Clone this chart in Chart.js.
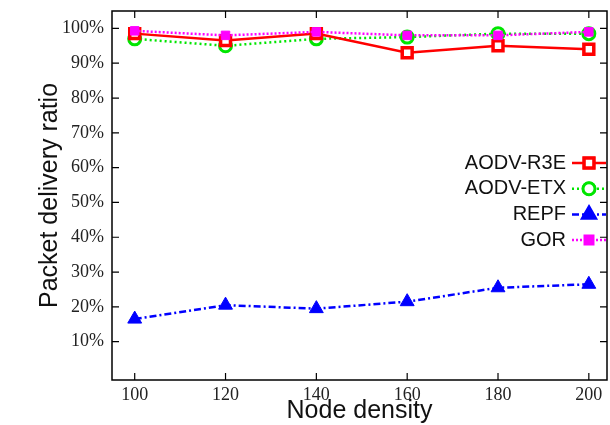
<!DOCTYPE html>
<html>
<head>
<meta charset="utf-8">
<script src="https://cdn.jsdelivr.net/npm/chart.js@4"></script>
<style>
	html, body { margin: 0; padding: 0; background: #fff; }
	#wrap { width: 610px; height: 425px; }
</style>
</head>
<body>
<div id="wrap"><canvas id="data" width="610" height="425"></canvas></div>
<script>
const nodeDensity = [100, 120, 140, 160, 180, 200];
const yTicks = [10, 20, 30, 40, 50, 60, 70, 80, 90, 100];

const aodvR3e = [98.5, 96.5, 98.5, 93, 95, 94];
const aodvEtx = [97, 95, 97, 97.5, 98.5, 98.5];
const repf = [16.5, 20.5, 19.5, 21.5, 25.5, 26.5];
const gor = [99.3, 98, 99, 98, 98, 99];

const toPoints = (vals) => vals.map((v, i) => ({ x: nodeDensity[i], y: v }));

// drop the label overhang padding chart.js adds, so the frame sits where we want
const noPad = (s) => {
	s.paddingTop = 0;
	s.paddingBottom = 0;
	s.paddingLeft = 0;
	s.paddingRight = 0;
};

// gnuplot style: ticks pointing inward on all four sides, plus the frame
const frameTicks = {
	id: "frameTicks",
	afterDraw(chart) {
		const { ctx, chartArea: a, scales } = chart;
		ctx.save();
		ctx.strokeStyle = "#000";
		ctx.lineWidth = 1.5;
		ctx.strokeRect(a.left, a.top, a.right - a.left, a.bottom - a.top);
		ctx.lineWidth = 1.2;
		ctx.beginPath();
		nodeDensity.forEach((v) => {
			const x = scales.x.getPixelForValue(v);
			ctx.moveTo(x, a.bottom); ctx.lineTo(x, a.bottom - 7);
			ctx.moveTo(x, a.top); ctx.lineTo(x, a.top + 7);
		});
		yTicks.forEach((v) => {
			const y = scales.y.getPixelForValue(v);
			ctx.moveTo(a.left, y); ctx.lineTo(a.left + 7, y);
			ctx.moveTo(a.right, y); ctx.lineTo(a.right - 7, y);
		});
		ctx.stroke();
		ctx.restore();
	}
};

// key inside the plot, text right-aligned with the line sample after it
const keyBox = {
	id: "keyBox",
	afterDraw(chart) {
		const { ctx } = chart;
		const rows = [0, 1, 2, 3];
		ctx.save();
		ctx.font = "20px 'Liberation Sans', Arial, sans-serif";
		ctx.textAlign = "right";
		ctx.textBaseline = "middle";
		rows.forEach((di, r) => {
			const ds = chart.data.datasets[di];
			const y = 163 + r * 25.7;
			ctx.fillStyle = "#111";
			ctx.fillText(ds.label, 566, y);
			ctx.strokeStyle = ds.borderColor;
			ctx.lineWidth = ds.borderWidth;
			ctx.setLineDash(ds.borderDash || []);
			ctx.beginPath();
			ctx.moveTo(572, y);
			ctx.lineTo(606, y);
			ctx.stroke();
			ctx.setLineDash([]);
			Chart.helpers.drawPoint(ctx, {
				pointStyle: ds.pointStyle,
				radius: ds.pointRadius,
				borderWidth: ds.pointBorderWidth,
				rotation: 0
			}, 589, y);
			ctx.fillStyle = ds.pointBackgroundColor;
			ctx.strokeStyle = ds.borderColor;
			ctx.lineWidth = ds.pointBorderWidth;
			ctx.fill();
			ctx.stroke();
		});
		ctx.restore();
	}
};

const ctx = document.getElementById("data");

new Chart(ctx, {
	type: "line",
	plugins: [frameTicks, keyBox],
	data: {
		datasets: [
			{
				label: "AODV-R3E",
				data: toPoints(aodvR3e),
				borderColor: "#ff0000",
				borderWidth: 2.5,
				pointStyle: "rect",
				pointRadius: 7,
				pointBorderWidth: 3.5,
				pointBackgroundColor: "#ffffff",
				order: 1
			},
			{
				label: "AODV-ETX",
				data: toPoints(aodvEtx),
				borderColor: "#00e600",
				borderWidth: 2.5,
				borderDash: [2, 3],
				pointStyle: "circle",
				pointRadius: 6,
				pointBorderWidth: 3,
				pointBackgroundColor: "#ffffff",
				order: 2
			},
			{
				label: "REPF",
				data: toPoints(repf),
				borderColor: "#0000ff",
				borderWidth: 2.5,
				borderDash: [7, 3, 2, 3],
				pointStyle: "triangle",
				pointRadius: 8,
				pointBorderWidth: 1,
				pointBackgroundColor: "#0000ff",
				order: 3
			},
			{
				label: "GOR",
				data: toPoints(gor),
				borderColor: "#ff00ff",
				borderWidth: 2.5,
				borderDash: [2, 2],
				pointStyle: "rect",
				pointRadius: 6,
				pointBorderWidth: 1,
				pointBackgroundColor: "#ff00ff",
				order: 0
			}
		]
	},
	options: {
		responsive: false,
		animation: false,
		layout: { autoPadding: false, padding: { top: 11, right: 3, left: 0, bottom: 0 } },
		scales: {
			x: {
				type: "linear",
				min: 95,
				max: 204,
				afterBuildTicks: (s) => { s.ticks = nodeDensity.map((v) => ({ value: v })); },
				afterFit: (s) => { s.height = 45; noPad(s); },
				border: { display: false },
				grid: { display: false, drawTicks: false },
				ticks: {
					padding: 4,
					color: "#222",
					font: { family: "'Liberation Serif', 'Times New Roman', serif", size: 18 },
					maxRotation: 0
				},
				title: {
					display: true,
					text: "Node density",
					color: "#111",
					font: { family: "'Liberation Sans', Arial, sans-serif", size: 25, lineHeight: 1 },
					padding: { top: 0, bottom: 1 }
				}
			},
			y: {
				min: -1,
				max: 105,
				afterBuildTicks: (s) => { s.ticks = yTicks.map((v) => ({ value: v })); },
				afterFit: (s) => { s.width = 112; noPad(s); },
				border: { display: false },
				grid: { display: false, drawTicks: false },
				ticks: {
					padding: 8,
					color: "#222",
					font: { family: "'Liberation Serif', 'Times New Roman', serif", size: 18 },
					callback: (v) => v + "%"
				},
				title: {
					display: true,
					text: "Packet delivery ratio",
					color: "#111",
					font: { family: "'Liberation Sans', Arial, sans-serif", size: 25, lineHeight: 1.2 },
					padding: { top: 35, bottom: 0 }
				}
			}
		},
		plugins: {
			legend: { display: false },
			tooltip: { enabled: false }
		}
	}
});
</script>
</body>
</html>
